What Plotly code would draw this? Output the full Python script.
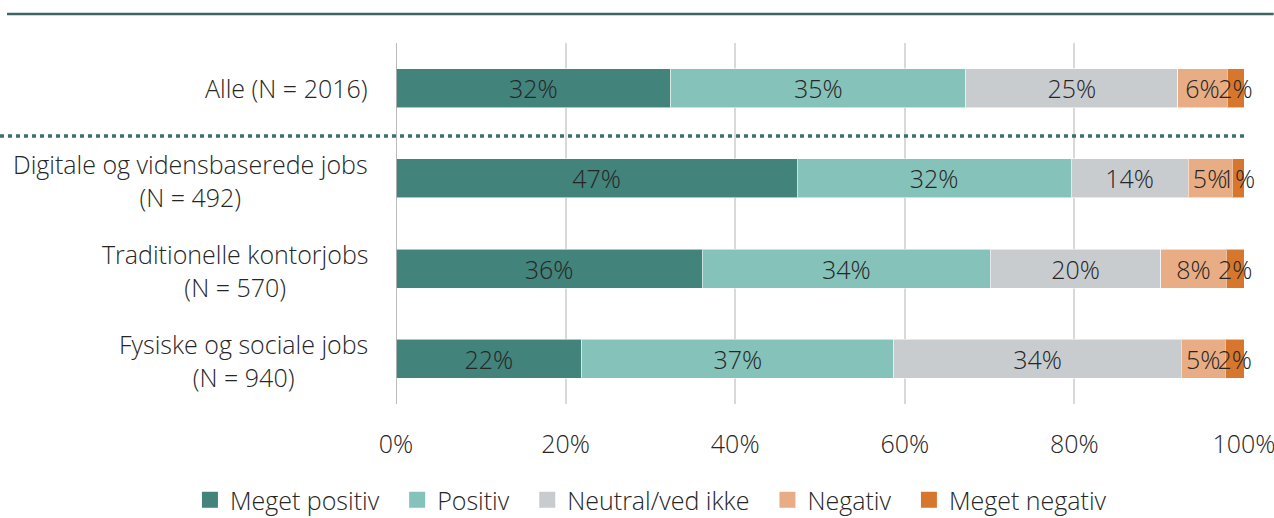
import plotly.graph_objects as go

# Response shares (%) per group, stacked left to right
groups = ["Alle", "Digitale", "Traditionelle", "Fysiske"]
group_labels = [
    "Alle (N = 2016)",
    "Digitale og vidensbaserede jobs<br>(N = 492)",
    "Traditionelle kontorjobs<br>(N = 570)",
    "Fysiske og sociale jobs<br>(N = 940)",
]
series_names = ["Meget positiv", "Positiv", "Neutral/ved ikke", "Negativ", "Meget negativ"]
meget_positiv = [32.4, 47.3, 36.1, 21.9]
positiv = [34.8, 32.3, 34.0, 36.8]
neutral = [25.0, 13.8, 20.1, 33.9]
negativ = [5.8, 5.2, 7.7, 5.2]
meget_negativ = [2.0, 1.4, 2.1, 2.2]
tick_values = [0, 20, 40, 60, 80, 100]
tick_labels = ["0%", "20%", "40%", "60%", "80%", "100%"]

series_values = [meget_positiv, positiv, neutral, negativ, meget_negativ]
colors = ["#42837b", "#85c2b9", "#c9cccf", "#e8ad84", "#d7772e"]

FONT = "Open Sans"
TXT = "#262626"
FS = 25
PAD = "\u00a0\u00a0"  # extra room after each legend entry

fig = go.Figure()
for name, vals, col in zip(series_names, series_values, colors):
    fig.add_trace(go.Bar(
        y=groups, x=vals, name=name, orientation="h",
        marker=dict(color=col, line=dict(color="rgba(255,255,255,0.55)", width=1)),
        width=0.43,
        texttemplate="%{x:.0f}%", textposition="inside",
        insidetextanchor="middle", textangle=0, constraintext="none",
        insidetextfont=dict(family=FONT, size=FS, color=TXT, weight=300),
        cliponaxis=False, showlegend=False, hoverinfo="skip",
    ))
    # legend entry with a larger square swatch
    fig.add_trace(go.Scatter(
        x=[None], y=[None], mode="markers", name=name + PAD,
        marker=dict(symbol="square", size=16, color=col),
        showlegend=True, hoverinfo="skip",
    ))

# group labels left of the bars, lines centred on each other
annotations = [
    dict(x=0, xref="paper", y=g, yref="y", text=lab, showarrow=False,
         xanchor="right", yanchor="middle", align="center", xshift=-26,
         yshift=-2 if "<br>" in lab else 0,
         font=dict(family=FONT, size=FS, color=TXT, weight=300))
    for g, lab in zip(groups, group_labels)
]

fig.update_layout(
    width=1274, height=518,
    margin=dict(l=396, r=30, t=43, b=114, autoexpand=False),
    paper_bgcolor="white", plot_bgcolor="white",
    barmode="stack",
    font=dict(family=FONT, size=FS, color=TXT, weight=300),
    xaxis=dict(
        range=[0, 100], tickmode="array", tickvals=tick_values, ticktext=tick_labels,
        showgrid=True, gridcolor="#d9d9d9", gridwidth=1.5,
        zeroline=False, showline=False, ticks="",
        ticklabelstandoff=23, ticklabeloverflow="allow",
        tickfont=dict(family=FONT, size=FS, color=TXT, weight=300),
        fixedrange=True,
    ),
    yaxis=dict(
        autorange="reversed", showticklabels=False, showgrid=False,
        zeroline=False, showline=False, ticks="", fixedrange=True,
    ),
    legend=dict(
        orientation="h", traceorder="normal",
        xref="paper", x=-0.243, xanchor="left",
        yref="paper", y=-0.266, yanchor="middle",
        font=dict(family=FONT, size=FS, color=TXT, weight=300),
        itemwidth=30,
    ),
    annotations=annotations,
    shapes=[
        # zero line
        dict(type="line", xref="x", yref="paper", x0=0, x1=0, y0=0, y1=1,
             line=dict(color="#a6a6a6", width=1.5), layer="above"),
        # top rule
        dict(type="line", xref="paper", yref="paper", x0=-0.4587, x1=1.035,
             y0=1.08, y1=1.08, line=dict(color="#3e6561", width=2.5)),
        # dotted separator under "Alle"
        dict(type="line", xref="paper", yref="y", x0=-0.467, x1=1.0,
             y0=0.53, y1=0.53, line=dict(color="#3e6e69", width=3.5, dash="4px,4px")),
    ],
)

fig.write_html("out.html")
